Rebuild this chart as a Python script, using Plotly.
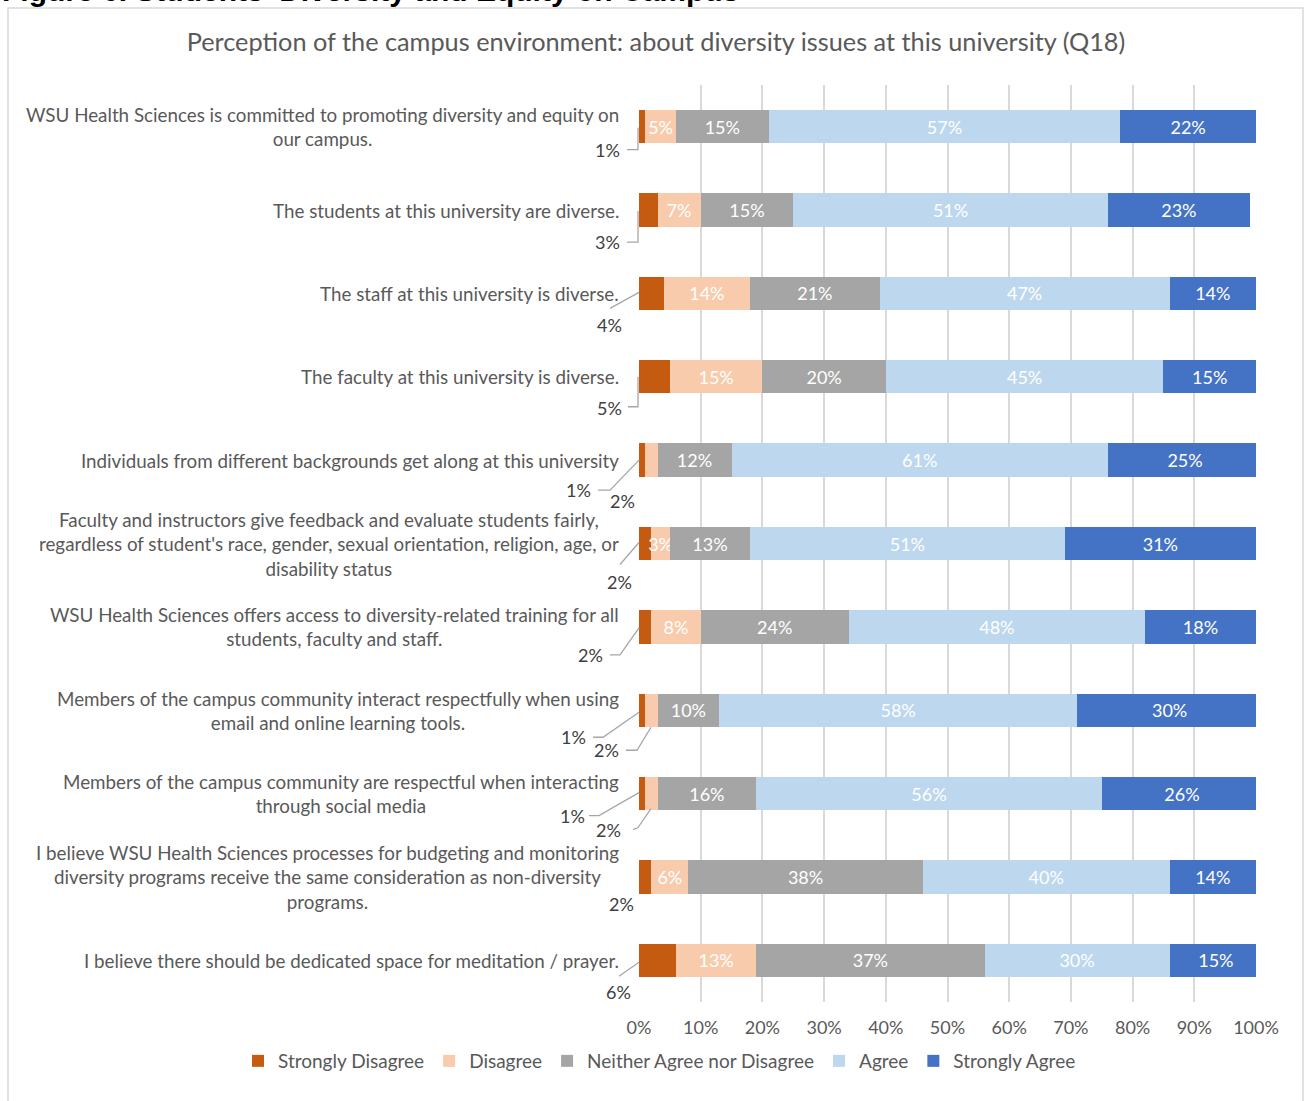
import plotly.graph_objects as go

# Survey statements (line breaks as they are wrapped beside the bars)
statements = [
    "WSU Health Sciences is committed to promoting diversity and equity on<br>our campus.",
    "The students at this university are diverse.",
    "The staff at this university is diverse.",
    "The faculty at this university is diverse.",
    "Individuals from different backgrounds get along at this university",
    "Faculty and instructors give feedback and evaluate students fairly,<br>regardless of student's race, gender, sexual orientation, religion, age, or<br>disability status",
    "WSU Health Sciences offers access to diversity-related training for all<br>students, faculty and staff.",
    "Members of the campus community interact respectfully when using<br>email and online learning tools.",
    "Members of the campus community are respectful when interacting<br>through social media",
    "I believe WSU Health Sciences processes for budgeting and monitoring<br>diversity programs receive the same consideration as non-diversity<br>programs.",
    "I believe there should be dedicated space for meditation / prayer.",
]

# Response shares (%) per statement
strongly_disagree = [1, 3, 4, 5, 1, 2, 2, 1, 1, 2, 6]
disagree = [5, 7, 14, 15, 2, 3, 8, 2, 2, 6, 13]
neither = [15, 15, 21, 20, 12, 13, 24, 10, 16, 38, 37]
agree = [57, 51, 47, 45, 61, 51, 48, 58, 56, 40, 30]
strongly_agree = [22, 23, 14, 15, 25, 31, 18, 30, 26, 14, 15]

series_names = ["Strongly Disagree", "Disagree", "Neither Agree nor Disagree",
                "Agree", "Strongly Agree"]
series_values = [strongly_disagree, disagree, neither, agree, strongly_agree]
series_colors = ["#C55A11", "#F8CBAD", "#A5A5A5", "#BDD7EE", "#4472C4"]

x_tick_values = [0, 10, 20, 30, 40, 50, 60, 70, 80, 90, 100]
x_tick_labels = ["0%", "10%", "20%", "30%", "40%", "50%", "60%", "70%", "80%", "90%", "100%"]

FONT = "Lato"
GREY = "#595959"
W, H = 1305, 1101
L, R, T, B = 639, 49, 85, 99
PW, PH = W - L - R, H - T - B
N = len(statements)


def is_outside(series_idx, value):
    # small leading segments carry their label outside the bar
    return series_idx == 0 or (series_idx == 1 and value <= 2)


def row_paper_y(ri):
    # vertical centre of a row in plot-fraction units (first row on top)
    return 1 - (ri + 0.5) / N


fig = go.Figure()
for si, (name, vals, col) in enumerate(zip(series_names, series_values, series_colors)):
    fig.add_trace(go.Bar(
        name=name, y=statements, x=vals, orientation="h",
        marker=dict(color=col, line=dict(width=0)),
        text=["" if is_outside(si, v) else f"{v}%" for v in vals],
        textposition="inside", insidetextanchor="middle",
        constraintext="none", textangle=0,
        textfont=dict(family=FONT, size=18, color="white"),
        hoverinfo="skip",
    ))

# Callout placement for outside labels: (row, series) -> text offset, leader path (screen px)
callouts = {
    (0, 0): ((-32, 23), [(-1, 1), (-1, 23), (-12, 23)]),
    (1, 0): ((-32, 32), [(-1, 1), (-1, 32), (-12, 32)]),
    (2, 0): ((-30, 32), [(0, -1), (-29, 15)]),
    (3, 0): ((-30, 31), [(-1, 0), (-1, 30), (-11, 30)]),
    (4, 0): ((-61, 30), [(0, 0), (-29, 30), (-41, 30)]),
    (4, 1): ((-17, 41), None),
    (5, 0): ((-20, 38), [(0, -1), (-19, 21)]),
    (6, 0): ((-49, 28), [(0, 1), (-19, 28), (-29, 28)]),
    (7, 0): ((-66, 27), [(0, 2), (-36, 27), (-46, 27)]),
    (7, 1): ((-33, 40), [(12, 17), (-2, 40), (-13, 40)]),
    (8, 0): ((-67, 22), [(0, -1), (-40, 22), (-50, 22)]),
    (8, 1): ((-31, 36), [(12, 15), (-1, 34), (-6, 36)]),
    (9, 0): ((-18, 27), None),
    (10, 0): ((-21, 32), [(0, 2), (-20, 16)]),
}

annotations = []
shapes = []
for si in (0, 1):
    for ri, v in enumerate(series_values[si]):
        if not is_outside(si, v):
            continue
        (dx, dy), path = callouts[(ri, si)]
        annotations.append(dict(
            x=0, y=row_paper_y(ri), xref="paper", yref="paper", text=f"{v}%",
            showarrow=False, xanchor="center", yanchor="middle",
            xshift=dx, yshift=-dy,
            font=dict(family=FONT, size=18, color="#404040"),
        ))
        if path:
            d = "M" + " L".join(f"{px},{-py}" for px, py in path)
            shapes.append(dict(
                type="path", path=d, xref="paper", yref="paper",
                xsizemode="pixel", ysizemode="pixel",
                xanchor=0, yanchor=row_paper_y(ri),
                line=dict(color="#A6A6A6", width=1.3), layer="above",
            ))

# Category labels, each block centred line by line, right-aligned to the plot
for ri, s in enumerate(statements):
    annotations.append(dict(
        x=0, y=row_paper_y(ri), xref="paper", yref="paper", text=s, showarrow=False,
        xanchor="right", yanchor="middle", align="center", xshift=-18,
        font=dict(family=FONT, size=18.8, color=GREY),
    ))

# Heading above the chart frame
annotations.append(dict(
    x=0, y=1 + (T - 9) / PH, xref="paper", yref="paper",
    xanchor="left", yanchor="bottom", xshift=-L, showarrow=False,
    text="<b>Figure 6. Students' Diversity and Equity on Campus</b>",
    font=dict(family="Liberation Sans", size=30, color="black"),
))

# Chart frame
shapes.append(dict(
    type="rect", xref="paper", yref="paper", layer="below",
    x0=(8 - L) / PW, x1=(1303 - L) / PW,
    y0=1 - (1115 - T) / PH, y1=1 - (8 - T) / PH,
    line=dict(color="#D9D9D9", width=1.5), fillcolor="rgba(0,0,0,0)",
))

fig.update_layout(
    width=W, height=H,
    margin=dict(l=L, r=R, t=T, b=B, pad=0, autoexpand=False),
    barmode="stack", bargap=0.6,
    plot_bgcolor="white", paper_bgcolor="white",
    font=dict(family=FONT, size=19, color=GREY),
    title=dict(
        text="Perception of the campus environment: about diversity issues at this university (Q18)",
        x=656 / W, xref="container", xanchor="center",
        y=1 - 42 / H, yref="container", yanchor="middle",
        font=dict(family=FONT, size=25.3, color=GREY),
    ),
    xaxis=dict(
        range=[0, 100], tickmode="array",
        tickvals=x_tick_values, ticktext=x_tick_labels,
        showgrid=True, gridcolor="#D9D9D9", gridwidth=2,
        zeroline=False, showline=False, ticks="",
        tickfont=dict(family=FONT, size=18, color=GREY),
        ticklabelstandoff=13,
    ),
    yaxis=dict(
        type="category", autorange="reversed",
        showticklabels=False, showgrid=False, zeroline=False, ticks="",
    ),
    legend=dict(
        orientation="h", xref="paper", x=(238 - L) / PW, xanchor="left",
        yref="paper", y=-(1061 - (T + PH)) / PH, yanchor="middle",
        font=dict(family=FONT, size=19, color=GREY),
        traceorder="normal", itemwidth=30, bgcolor="rgba(0,0,0,0)",
    ),
    annotations=annotations,
    shapes=shapes,
    showlegend=True,
)

fig.write_html("out.html")
